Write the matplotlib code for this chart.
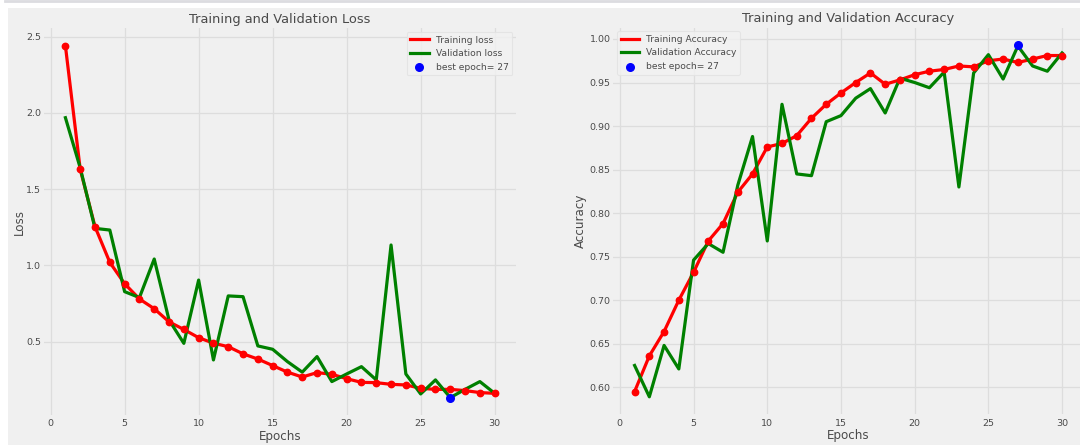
import matplotlib
matplotlib.use("Agg")
import matplotlib.pyplot as plt
from matplotlib.patches import Rectangle
from matplotlib.lines import Line2D

epochs = list(range(1, 31))

train_loss = [2.44, 1.63, 1.254, 1.02, 0.88, 0.78, 0.716, 0.63, 0.58, 0.526,
              0.49, 0.467, 0.42, 0.386, 0.343, 0.30, 0.268, 0.297, 0.286, 0.257,
              0.233, 0.231, 0.22, 0.216, 0.194, 0.187, 0.187, 0.179, 0.166, 0.161]
val_loss = [1.969, 1.64, 1.243, 1.232, 0.828, 0.789, 1.042, 0.642, 0.489, 0.904,
            0.38, 0.80, 0.795, 0.472, 0.45, 0.369, 0.30, 0.402, 0.238, 0.288,
            0.336, 0.249, 1.134, 0.288, 0.157, 0.249, 0.133, 0.187, 0.238, 0.161]

train_acc = [0.595, 0.636, 0.664, 0.700, 0.732, 0.768, 0.788, 0.824, 0.845, 0.876,
             0.880, 0.889, 0.909, 0.925, 0.938, 0.950, 0.961, 0.948, 0.953, 0.959,
             0.963, 0.965, 0.969, 0.968, 0.975, 0.977, 0.973, 0.977, 0.981, 0.981]
val_acc = [0.625, 0.589, 0.648, 0.621, 0.746, 0.765, 0.755, 0.832, 0.888, 0.768,
           0.925, 0.845, 0.843, 0.905, 0.912, 0.932, 0.943, 0.915, 0.955, 0.950,
           0.944, 0.962, 0.830, 0.961, 0.982, 0.954, 0.992, 0.969, 0.963, 0.984]

best_epoch = 27
best_loss = 0.133
best_acc = 0.993

BG = "#f0f0f0"
TXT = "#4a4a4a"

fig = plt.figure(figsize=(10.8, 4.45), dpi=100)
fig.patch.set_facecolor("white")
fig.add_artist(Rectangle((7.5 / 1080, 0), 1, (445 - 8) / 445, transform=fig.transFigure,
                         facecolor=BG, edgecolor="none", zorder=0))
fig.add_artist(Line2D([5 / 1080, 1], [1 - 1 / 445, 1 - 1 / 445], transform=fig.transFigure,
                      color="#dcdce0", lw=2, zorder=0))

ax1 = fig.add_axes([0.0407, 0.067, 0.4372, 0.8694])
ax2 = fig.add_axes([0.5678, 0.0688, 0.4354, 0.8694])


def style(ax):
    ax.set_facecolor(BG)
    for s in ax.spines.values():
        s.set_visible(False)
    ax.grid(True, color="#dddddd", lw=0.9)
    ax.set_axisbelow(True)
    ax.tick_params(length=0, labelsize=6.8, colors=TXT)
    ax.tick_params(axis="x", pad=3)
    ax.tick_params(axis="y", pad=2)


LW = 2.3
for ax, tr, va, best, title, ylab, labs, loc, lp in [
    (ax1, train_loss, val_loss, best_loss, "Training and Validation Loss", "Loss",
     ("Training loss", "Validation loss"), "upper right", 0),
    (ax2, train_acc, val_acc, best_acc, "Training and Validation Accuracy", "Accuracy",
     ("Training Accuracy", "Validation Accuracy"), "upper left", 1.5),
]:
    style(ax)
    ax.plot(epochs, tr, color="red", lw=LW, label=labs[0], zorder=3)
    ax.plot(epochs, va, color="green", lw=LW, label=labs[1], zorder=4)
    ax.plot(epochs, tr, "o", color="red", ms=4.6, zorder=5)
    ax.scatter([best_epoch], [best], s=30, c="blue", label="best epoch= 27", zorder=6)
    ax.set_title(title, fontsize=9.4, color=TXT, pad=4)
    ax.set_xlabel("Epochs", fontsize=8.6, color=TXT, labelpad=1)
    ax.set_ylabel(ylab, fontsize=8.6, color=TXT, labelpad=lp)
    ax.set_xticks([0, 5, 10, 15, 20, 25, 30])
    leg = ax.legend(loc=loc, fontsize=6.6, frameon=True, fancybox=True,
                    borderaxespad=0.4, handletextpad=0.8)
    leg.get_frame().set_facecolor("#f2f2f2")
    leg.get_frame().set_edgecolor("#e2e2e2")
    leg.get_frame().set_linewidth(0.8)
    for t in leg.get_texts():
        t.set_color(TXT)

ax2.set_yticks([0.60, 0.65, 0.70, 0.75, 0.80, 0.85, 0.90, 0.95, 1.00])
ax2.set_yticklabels(["0.60", "0.65", "0.70", "0.75", "0.80", "0.85", "0.90", "0.95", "1.00"])

fig.savefig("out.png", dpi=100, facecolor=fig.get_facecolor())
